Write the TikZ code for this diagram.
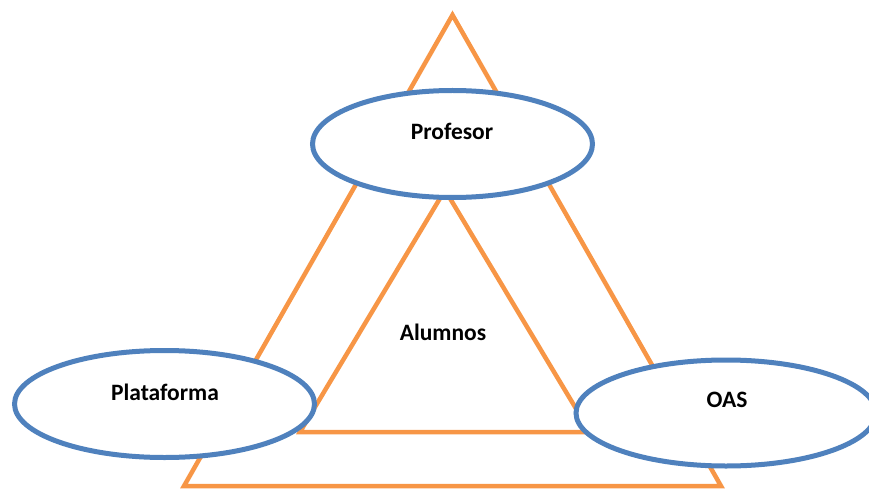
\documentclass[tikz,border=0pt]{standalone}
\usepackage{fontspec}
\setmainfont{Carlito}
\usetikzlibrary{shapes.geometric}
\definecolor{triorange}{HTML}{F79646}
\definecolor{ellblue}{HTML}{4F81BD}
\begin{document}
\begin{tikzpicture}[x=1pt,y=-1pt,
  tri/.style={draw=triorange,line width=4.5pt,line join=miter},
  oval/.style={ellipse,draw=ellblue,line width=5pt,fill=white,inner sep=0pt,outer sep=0pt},
  lbl/.style={font=\fontsize{23.5}{28}\selectfont\bfseries,inner sep=0pt,anchor=center}]
\useasboundingbox (0,0) rectangle (869,489);
% outer triangle
\coordinate (oT) at (452.5,15);
\coordinate (oL) at (184,486);
\coordinate (oR) at (721,486);
\draw[tri] (oT) -- (oL) -- (oR) -- cycle;
% inner triangle
\coordinate (iT) at (445,190);
\coordinate (iL) at (300,432);
\coordinate (iR) at (590,432);
\draw[tri] (iT) -- (iL) -- (iR) -- cycle;
% ellipses
\node[oval,minimum width=280,minimum height=107] (prof) at (452.5,144) {};
\node[oval,minimum width=300,minimum height=107] (plat) at (164.5,404) {};
\node[oval,minimum width=300,minimum height=106] (oas) at (726,413) {};
% labels
\node[lbl] (tprof) at (452,131) {Profesor};
\node[lbl] (tplat) at (165,392) {Plataforma};
\node[lbl] (toas) at (727,400) {OAS};
\node[lbl] (talum) at (443,332) {Alumnos};
\end{tikzpicture}
\end{document}
